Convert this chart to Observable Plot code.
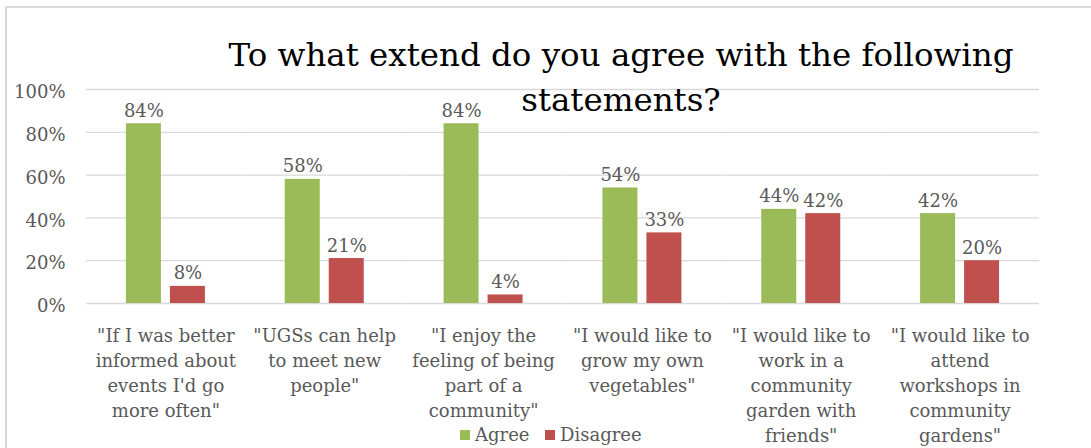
<!DOCTYPE html>
<html>
<head>
<meta charset="utf-8">
<script src="https://cdn.jsdelivr.net/npm/d3@7"></script>
<script src="https://cdn.jsdelivr.net/npm/@observablehq/plot@0.6"></script>
<style>
  html, body { margin: 0; padding: 0; background: #fff; }
  #wrap { position: relative; width: 1091px; height: 448px; overflow: hidden; background: #fff; }
  #border { position: absolute; left: 5px; top: 6px; width: 1200px; height: 600px; border: 2px solid #D9D9D9; box-sizing: border-box; }
  #chart { position: absolute; left: 0; top: 0; }
  #title { position: absolute; left: 221px; width: 800px; top: 33px; text-align: center;
           font-family: 'DejaVu Serif', serif; font-size: 32.5px; line-height: 45px; color: #000; white-space: nowrap; }
  #legend { position: absolute; top: 423px; left: 0; width: 1091px; height: 24px;
            font-family: 'DejaVu Serif', serif; font-size: 18px; color: #595959; }
  .sw { position: absolute; width: 10px; height: 10px; top: 7px; }
  .lt { position: absolute; top: 0; line-height: 24px; }
</style>
</head>
<body>
<div id="wrap">
  <div id="border"></div>
  <div id="chart"></div>
  <div id="title"></div>
  <div id="legend"></div>
</div>
<script>
const titleLines = ["To what extend do you agree with the following", "statements?"];
const categories = ["informed", "meet", "community", "vegetables", "work", "workshops"];
const categoryLabels = [
  "\"If I was better\ninformed about\nevents I'd go\nmore often\"",
  "\"UGSs can help\nto meet new\npeople\"",
  "\"I enjoy the\nfeeling of being\npart of a\ncommunity\"",
  "\"I would like to\ngrow my own\nvegetables\"",
  "\"I would like to\nwork in a\ncommunity\ngarden with\nfriends\"",
  "\"I would like to\nattend\nworkshops in\ncommunity\ngardens\""
];
const series = ["Agree", "Disagree"];
const seriesColors = ["#9BBB59", "#C0504D"];
const agree = [0.84, 0.58, 0.84, 0.54, 0.44, 0.42];
const disagree = [0.08, 0.21, 0.04, 0.33, 0.42, 0.20];
const yTicks = [0, 0.2, 0.4, 0.6, 0.8, 1.0];

const data = categories.flatMap((c, i) => [
  {cat: c, series: "Agree", value: agree[i]},
  {cat: c, series: "Disagree", value: disagree[i]}
]);
const fmt = d3.format(".0%");

const chart = Plot.plot({
  width: 1091,
  height: 448,
  marginLeft: 86,
  marginRight: 52,
  marginTop: 89,
  marginBottom: 145,
  style: {fontFamily: "'DejaVu Serif', serif", fontSize: "18px", color: "#595959", background: "transparent", overflow: "visible"},
  fx: {domain: categories, padding: 0, axis: null, label: null, round: false},
  x: {domain: series, axis: null, paddingInner: 0.2045, paddingOuter: 0.907, round: false},
  y: {domain: [0, 1], axis: null},
  color: {domain: series, range: seriesColors},
  marks: [
    Plot.gridY(yTicks, {stroke: "#D9D9D9", strokeOpacity: 1, strokeWidth: 1.3}),
    Plot.barY(data, {fx: "cat", x: "series", y: "value", fill: "series"}),
    Plot.text(data, {fx: "cat", x: "series", y: "value", text: d => fmt(d.value), lineAnchor: "bottom", dy: -7, fill: "#595959", fontSize: 18}),
    Plot.axisY(yTicks, {tickFormat: fmt, tickSize: 0, tickPadding: 21, fontSize: 18, dy: 3, label: null}),
    Plot.axisFx({anchor: "bottom", tickFormat: c => categoryLabels[categories.indexOf(c)], tickSize: 0, tickPadding: 21, fontSize: 18, lineHeight: 1.39, label: null})
  ]
});
document.getElementById("chart").appendChild(chart);

const t = document.getElementById("title");
t.innerHTML = titleLines.map(s => `<div>${s}</div>`).join("");

const lg = document.getElementById("legend");
const legendPos = [[460, 475], [545, 560]];
series.forEach((s, i) => {
  const sw = document.createElement("div");
  sw.className = "sw";
  sw.style.left = legendPos[i][0] + "px";
  sw.style.background = seriesColors[i];
  lg.appendChild(sw);
  const tx = document.createElement("div");
  tx.className = "lt";
  tx.style.left = legendPos[i][1] + "px";
  tx.textContent = s;
  lg.appendChild(tx);
});
</script>
</body>
</html>
